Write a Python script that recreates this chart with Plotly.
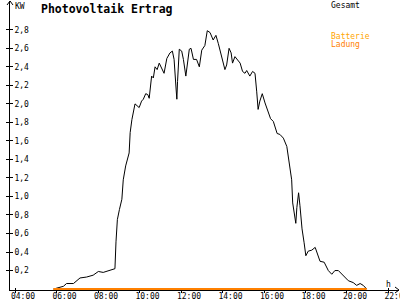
import plotly.graph_objects as go

DAY = "2024-06-01 "

# Gesamt (kW) time series
times = ["05:51", "06:20", "06:29", "06:49", "07:08", "07:27", "07:46", "08:01", "08:15", "08:30",
         "08:40", "08:49", "08:52", "08:56", "09:02", "09:09", "09:13", "09:20", "09:30", "09:33",
         "09:38", "09:42", "09:47", "09:59", "10:06", "10:11", "10:18", "10:24", "10:28", "10:35",
         "10:40", "10:45", "10:51", "10:57", "11:04", "11:11", "11:19", "11:28", "11:35", "11:40",
         "11:46", "11:48", "11:50", "11:55", "12:02", "12:07", "12:14", "12:18", "12:24", "12:29",
         "12:36", "12:45", "12:53", "13:00", "13:09", "13:16", "13:24", "13:33", "13:41", "13:48",
         "13:58", "14:07", "14:12", "14:19", "14:25", "14:29", "14:36", "14:43", "14:51", "14:58",
         "15:05", "15:10", "15:19", "15:27", "15:34", "15:39", "15:43", "15:48", "15:55", "16:03",
         "16:12", "16:19", "16:27", "16:38", "16:46", "16:56", "17:06", "17:13", "17:20", "17:23",
         "17:27", "17:32", "17:35", "17:40", "17:44", "17:50", "17:56", "18:01", "18:08", "18:18",
         "18:28", "18:34", "18:42", "18:54", "18:59", "19:06", "19:16", "19:25", "19:35", "19:45",
         "19:54", "20:04", "20:18", "20:28", "20:38", "20:47", "20:57"]
gesamt = [0.00, 0.03, 0.06, 0.06, 0.12, 0.13, 0.15, 0.19, 0.18, 0.20,
          0.215, 0.22, 0.51, 0.75, 0.86, 0.97, 1.18, 1.33, 1.47, 1.69,
          1.83, 1.92, 2.00, 1.96, 2.03, 2.05, 2.11, 2.10, 2.06, 2.30,
          2.28, 2.40, 2.37, 2.44, 2.39, 2.33, 2.49, 2.55, 2.57, 2.48,
          2.15, 2.05, 2.24, 2.59, 2.57, 2.48, 2.30, 2.40, 2.59, 2.60,
          2.48, 2.48, 2.40, 2.58, 2.63, 2.79, 2.77, 2.69, 2.74, 2.65,
          2.51, 2.37, 2.42, 2.60, 2.55, 2.44, 2.51, 2.48, 2.44, 2.35,
          2.33, 2.36, 2.30, 2.35, 2.33, 2.13, 1.94, 2.03, 2.11, 2.01,
          1.90, 1.84, 1.81, 1.68, 1.67, 1.63, 1.54, 1.33, 1.18, 0.93,
          0.83, 0.71, 0.88, 1.04, 0.90, 0.65, 0.50, 0.36, 0.41, 0.42,
          0.45, 0.39, 0.30, 0.29, 0.25, 0.20, 0.16, 0.20, 0.20, 0.16,
          0.12, 0.09, 0.07, 0.04, 0.06, 0.04, 0.00]

# Batterie Ladung (kW)
ladung_times = ["05:51", "20:57"]
ladung = [0.0, 0.0]

y_ticks = [0.2, 0.4, 0.6, 0.8, 1.0, 1.2, 1.4, 1.6, 1.8, 2.0, 2.2, 2.4, 2.6, 2.8]
x_ticks = ["04:00", "06:00", "08:00", "10:00", "12:00", "14:00", "16:00", "18:00", "20:00", "22:00"]

MONO = "DejaVu Sans Mono"
ORANGE = "#FF8000"
GOLD = "#FFA500"

fig = go.Figure()
fig.add_trace(go.Scatter(x=[DAY + t for t in times], y=gesamt, mode="lines",
                         line=dict(color="black", width=1), name="Gesamt"))
fig.add_trace(go.Scatter(x=[DAY + t for t in ladung_times], y=ladung, mode="lines",
                         line=dict(color=ORANGE, width=2), name="Ladung"))

W, H = 400, 300
L, R, T, B = 10, 1, 2, 10
pw, ph = W - L - R, H - T - B

def px(x):
    return (x - L) / pw

def py(y):
    return (H - B - y) / ph

fig.update_layout(
    width=W, height=H,
    margin=dict(l=L, r=R, t=T, b=B, autoexpand=False),
    paper_bgcolor="white", plot_bgcolor="white",
    showlegend=False,
    separators=",.",
    font=dict(family=MONO, size=8, color="black"),
    xaxis=dict(
        type="date",
        automargin=False,
        layer="below traces",
        range=[DAY + "03:45:30", DAY + "22:30:24"],
        tickvals=[DAY + t for t in x_ticks],
        ticktext=x_ticks,
        showgrid=False, zeroline=False,
        showline=True, linecolor="black", linewidth=1,
        ticks="outside", ticklen=2, tickcolor="black", tickwidth=1,
        ticklabelshift=8, ticklabelstandoff=-4,
        ticklabeloverflow="allow",
        tickfont=dict(family=MONO, size=8, color="black"),
        minor=dict(tickvals=[DAY + t for t in x_ticks], ticks="inside", ticklen=2,
                   tickcolor="black", tickwidth=1, showgrid=False),
        fixedrange=True,
    ),
    yaxis=dict(
        automargin=False,
        range=[-0.01, 3.1],
        tickvals=y_ticks,
        tickformat=".1f",
        showgrid=False, zeroline=False,
        showline=True, linecolor="black", linewidth=1,
        ticks="outside", ticklen=3, tickcolor="black", tickwidth=1,
        ticklabelposition="inside",
        ticklabelstandoff=3,
        ticklabeloverflow="allow",
        tickfont=dict(family=MONO, size=8, color="black"),
        minor=dict(tickvals=y_ticks, ticks="inside", ticklen=3,
                   tickcolor="black", tickwidth=1, showgrid=False),
        fixedrange=True,
    ),
)

# axis arrows
fig.add_shape(type="path", xref="paper", yref="paper",
              path=f"M {px(7)},{py(5)} L {px(10)},{py(1)} L {px(13)},{py(5)}",
              line=dict(color="black", width=1))
fig.add_shape(type="line", xref="paper", yref="paper",
              x0=px(10), y0=py(2), x1=px(10), y1=py(1), line=dict(color="black", width=1))
fig.add_shape(type="path", xref="paper", yref="paper",
              path=f"M {px(395)},{py(287)} L {px(399)},{py(290)} L {px(395)},{py(293)}",
              line=dict(color="black", width=1))

def label(x, y, text, size=8, color="black", bold=False):
    fig.add_annotation(xref="paper", yref="paper", x=px(x), y=py(y),
                       xanchor="left", yanchor="top", showarrow=False,
                       text=f"<b>{text}</b>" if bold else text,
                       font=dict(family=MONO, size=size, color=color))

label(39, 0, "Photovoltaik Ertrag", size=11.5, bold=True)
label(13, 0, "KW")
label(329, -1, "Gesamt")
label(329, 30, "Batterie", color=GOLD)
label(329, 38, "Ladung", color=ORANGE)
label(384, 278, "h")

fig.write_html("out.html")
